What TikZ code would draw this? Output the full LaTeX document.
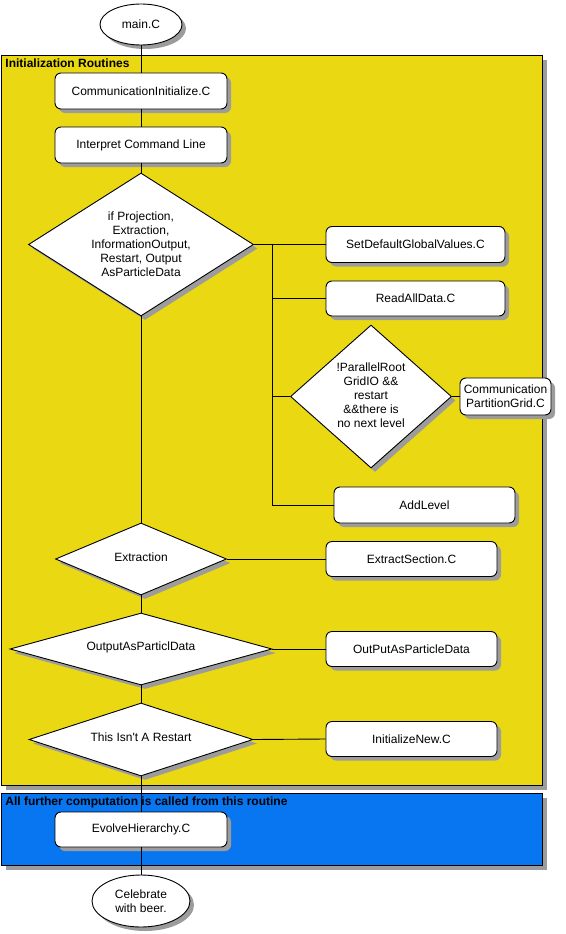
\documentclass[tikz,border=0pt]{standalone}
\usepackage{fontspec}
\setmainfont{Liberation Sans}
\newfontfamily\straightfont{Liberation Sans}[Ligatures=TeXOff]
\usetikzlibrary{shapes.geometric,shadows}
\definecolor{ylw}{RGB}{234,217,18}
\definecolor{blu}{RGB}{8,118,240}
\definecolor{shd}{RGB}{156,156,156}
\begin{document}
\begin{tikzpicture}[x=1pt,y=-1pt,
 font=\fontsize{12}{14}\selectfont,
 line width=0.9pt,
 shdw/.style={drop shadow={shadow xshift=4pt,shadow yshift=-4pt,fill=shd,opacity=1}},
 proc/.style={draw,fill=white,rounded corners=6pt,rectangle,inner sep=0pt,align=center,shdw},
 dec/.style={draw,fill=white,diamond,inner sep=0pt,shdw},
 term/.style={draw,fill=white,ellipse,inner sep=0pt,align=center,shdw},
 grp/.style={draw,rectangle,inner sep=0pt,anchor=north west,drop shadow={shadow xshift=5pt,shadow yshift=-5pt,fill=shd,opacity=1}},
 ttl/.style={anchor=west,inner sep=0pt,font=\fontsize{12}{14}\selectfont\bfseries},
 lbl/.style={inner sep=0pt,align=center}
]
\useasboundingbox (0,0) rectangle (565,934);
\fill[white] (0,0) rectangle (565,934);

% containers
\node[grp,fill=ylw,minimum width=541pt,minimum height=730pt] (init) at (1,55) {};
\node[ttl] (initT) at (5,63) {Initialization Routines};
\node[grp,fill=blu,minimum width=541pt,minimum height=72pt] (evo) at (1,793) {};
\node[ttl] (evoT) at (5,802) {All further computation is called from this routine};

% terminals
\node[term,minimum width=82pt,minimum height=41pt] (main) at (141,24.5) {main.C};
\node[term,minimum width=98pt,minimum height=52pt] (beer) at (141,901) {Celebrate\\with beer.};

% process boxes
\node[proc,minimum width=172pt,minimum height=36pt] (comm) at (141,91) {CommunicationInitialize.C};
\node[proc,minimum width=172pt,minimum height=36pt] (interp) at (141,145) {Interpret Command Line};
\node[proc,minimum width=179pt,minimum height=36pt] (sdgv) at (415.5,244.5) {SetDefaultGlobalValues.C};
\node[proc,minimum width=179pt,minimum height=35pt] (readall) at (415.5,298.5) {ReadAllData.C};
\node[proc,minimum width=91pt,minimum height=37pt] (cpg) at (505.5,396.5) {Communication\\PartitionGrid.C};
\node[proc,minimum width=181pt,minimum height=36pt] (addlevel) at (424.5,505) {AddLevel};
\node[proc,minimum width=171pt,minimum height=35pt] (extract) at (411.5,559) {ExtractSection.C};
\node[proc,minimum width=171pt,minimum height=35pt] (outpart) at (411.5,649) {OutPutAsParticleData};
\node[proc,minimum width=171pt,minimum height=35pt] (initnew) at (411.5,739) {InitializeNew.C};
\node[proc,minimum width=172pt,minimum height=35pt] (evolve) at (141,829.5) {EvolveHierarchy.C};

% decisions
\node[dec,minimum width=225pt,minimum height=143pt] (d1) at (141,244.5) {};
\node[lbl] (d1t) at (d1) {if Projection,\\Extraction,\\InformationOutput,\\Restart, Output\\AsParticleData};
\node[dec,minimum width=161pt,minimum height=143pt] (d2) at (371,396.5) {};
\node[lbl] (d2t) at ([yshift=1.5pt]d2) {!ParallelRoot\\GridIO \&\&\\restart\\\&\&there is\\no next level};
\node[dec,minimum width=171pt,minimum height=72pt] (dext) at (141,559) {};
\node[lbl] (dextt) at ([yshift=2pt]dext) {Extraction};
\node[dec,minimum width=262pt,minimum height=72pt] (dout) at (141,649) {};
\node[lbl] (doutt) at ([yshift=2pt]dout) {OutputAsParticlData};
\node[dec,minimum width=224pt,minimum height=73pt] (drest) at (141,739.5) {};
\node[lbl] (drestt) at ([yshift=2pt]drest) {\straightfont This Isn't A Restart};

% connectors
\coordinate (brTop) at (272,244.5);
\coordinate (brBot) at (272,505);
\draw (main) -- (comm);
\draw (comm) -- (interp);
\draw (interp) -- (d1.north);
\draw (d1.south) -- (dext.north);
\draw (d1.east) -- (sdgv.west);
\draw (brTop) -- (brBot) -- (addlevel.west);
\draw (brTop |- readall.west) -- (readall.west);
\draw (brTop |- d2.west) -- (d2.west);
\draw (d2.east) -- (cpg.west);
\draw (dext.east) -- (extract.west);
\draw (dext.south) -- (dout.north);
\draw (dout.east) -- (outpart.west);
\draw (dout.south) -- (drest.north);
\draw (drest.east) -- (initnew.west);
\draw (drest.south) -- (evolve.north);
\draw (evolve.south) -- (beer.north);
\end{tikzpicture}
\end{document}
